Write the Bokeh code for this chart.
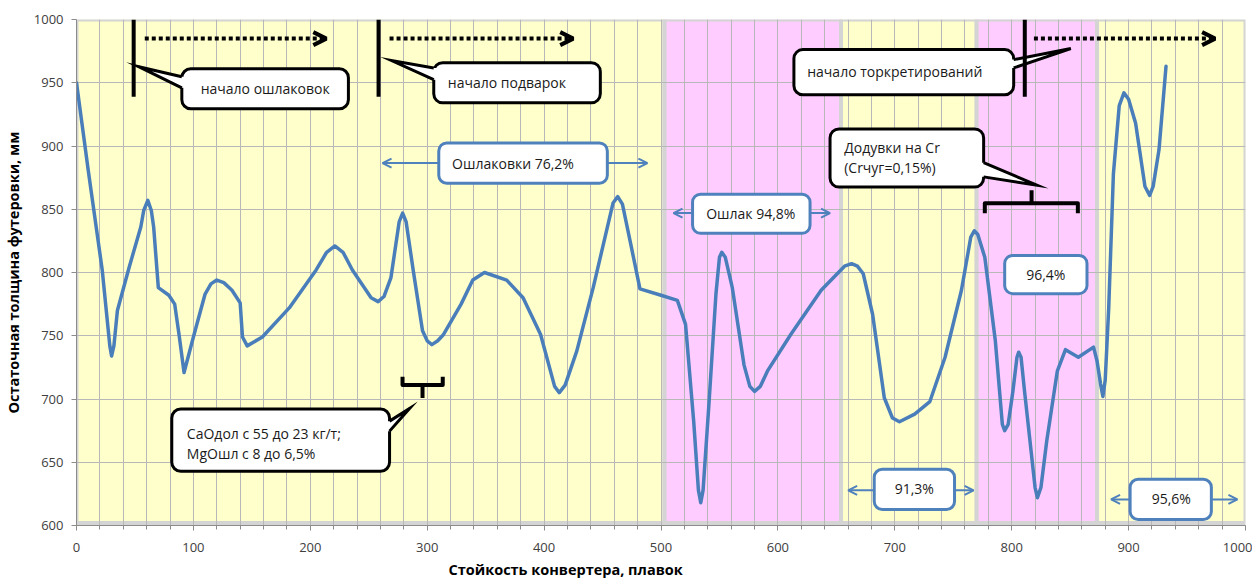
from bokeh.plotting import figure
from bokeh.models import Arrow, OpenHead, SingleIntervalTicker, Range1d, Title
from bokeh.core.properties import value
from bokeh.embed import file_html
from bokeh.resources import INLINE

# ---------------- data ----------------
heats = [0, 10, 22, 28.5, 30, 32, 35, 45, 55, 57.5, 61, 64, 66, 70, 79, 84, 88, 92, 100, 110,
         115, 120, 126, 133, 140, 142, 146, 159, 182, 205, 214, 221, 228, 236, 252, 258, 263,
         269, 276, 279, 282, 288, 296, 300, 304, 309, 314, 329, 339, 349, 368, 382, 397, 409,
         413, 418, 428, 442, 459, 463, 467, 474, 482, 500, 514, 521, 528, 532, 534, 536, 541,
         547, 550, 552, 555, 561, 571, 576, 580, 585, 591, 611, 637, 657, 663, 668, 673, 681,
         691, 698, 704, 717, 730, 743, 757, 765, 768, 771, 777, 786, 792, 794, 797, 801, 804.5,
         806, 808, 811, 820, 822, 825, 830, 839, 846, 857, 870, 873, 876, 878, 880, 883, 887,
         892, 896, 900, 906, 914, 918, 921, 926, 932]
thickness = [950, 881, 802, 742, 734, 742, 770, 804, 836, 849, 857, 849, 836, 788, 782, 775, 749,
             721, 749, 783, 791, 794, 792, 786, 776, 749, 742, 749, 772, 802, 816, 821, 816, 802,
             780, 777, 781, 796, 840, 847, 840, 802, 754, 746, 743, 746, 751, 775, 794, 800, 794,
             780, 751, 710, 705, 711, 738, 788, 855, 860, 854, 823, 787, 782, 778, 759, 682, 628,
             618, 628, 696, 783, 812, 816, 812, 788, 727, 710, 706, 710, 722, 751, 786, 805, 807,
             805, 799, 767, 701, 685, 682, 688, 698, 733, 786, 828, 833, 830, 812, 746, 680, 675,
             680, 706, 733, 737, 733, 706, 630, 622, 630, 667, 722, 739, 733, 741, 730, 712, 702,
             715, 772, 878, 932, 942, 937, 918, 868, 861, 868, 897, 963]

band_left = [0, 503, 654, 770, 873]
band_right = [503, 654, 770, 873, 1000]
band_colors = ["#FFFFCC", "#FFCCFF", "#FFFFCC", "#FFCCFF", "#FFFFCC"]

x_title = "Стойкость конвертера, плавок"
y_title = "Остаточная толщина футеровки, мм"

# black callouts
callout_texts = [["начало ошлаковок"], ["начало подварок"], ["начало торкретирований"],
                 ["Додувки на Cr", "(Crчуг=0,15%)"], ["CaOдол с 55 до 23 кг/т;", "MgOшл с 8 до 6,5%"]]
callout_left = [90.1, 305.6, 613.7, 644.6, 81.5]
callout_right = [232.6, 448.1, 801.7, 776.0, 267.8]
callout_bottom = [929.4, 934.1, 940.5, 867.5, 642.9]
callout_top = [961.1, 965.9, 976.2, 913.5, 692.1]
callout_text_x = [161.4, 368.2, 700.0, 656.7, 94.4]
callout_text_y = [945.2, 950.0, 958.7, 899.2, 673.0]
callout_align = ["center", "center", "center", "left", "left"]
tail_tip_x = [53.2, 269.5, 850.6, 821.5, 285.0]
tail_tip_y = [962.7, 967.5, 977.0, 869.0, 692.6]
tail_side = [-1, -1, 1, 1, 1]
tail_y1 = [954.8, 961.7, 968.3, 886.8, 682.5]
tail_y2 = [946.0, 952.4, 961.7, 875.6, 674.6]

# blue percentage boxes
pct_labels = ["Ошлаковки 76,2%", "Ошлак 94,8%", "96,4%", "91,3%", "95,6%"]
pct_left = [309.9, 527.0, 794.0, 682.4, 901.3]
pct_right = [454.1, 627.5, 864.4, 751.1, 970.8]
pct_bottom = [870.6, 831.0, 783.3, 612.7, 604.8]
pct_top = [902.4, 861.9, 813.5, 644.4, 636.5]
pct_text_x = [373.4, 576.8, 829.2, 716.7, 936.5]
pct_text_y = [886.5, 846.8, 798.4, 629.4, 621.4]
span_y = [886.5, 847.0, 627.8, 620.6]
span_left_tip = [261.8, 510.7, 660.1, 885.0]
span_left_box = [309.9, 527.0, 682.4, 901.3]
span_right_box = [454.1, 627.5, 751.1, 970.8]
span_right_tip = [488.4, 644.6, 767.4, 993.1]

# event markers
marker_x = [48.9, 258.4, 811.2]
marker_bottom = 938.9
dotted_start = [58.4, 267.8, 819.0]
dotted_end = [213.7, 424.9, 974.0]
dotted_y = 984.9

# braces
brace_bottom = dict(x0=278.9, x1=313.3, xc=296.0, yend=717.5, ybar=711.0, ystem=700.8)
brace_top = dict(x0=777.0, x1=856.6, xc=817.0, yend=846.8, ybar=854.8, ystem=865.0)

FONT = "Open Sans"
BLUE = "#4A7EBB"
BOXBLUE = "#4F81BD"

p = figure(width=1252, height=581, x_range=Range1d(0, 1000), y_range=Range1d(600, 1000),
           output_backend="svg", toolbar_location=None,
           min_border_left=70, min_border_right=7, min_border_top=19, min_border_bottom=55,
           y_axis_label=y_title)
p.outline_line_color = None
p.background_fill_color = "white"

p.xaxis.ticker = SingleIntervalTicker(interval=100, num_minor_ticks=5)
p.yaxis.ticker = SingleIntervalTicker(interval=50, num_minor_ticks=0)
for ax in (p.xaxis[0], p.yaxis[0]):
    ax.axis_line_color = "#8C8C8C"
    ax.major_tick_line_color = "#8C8C8C"
    ax.minor_tick_line_color = "#8C8C8C"
    ax.major_tick_in = 0
    ax.major_tick_out = 5
    ax.minor_tick_in = 0
    ax.minor_tick_out = 4
    ax.major_label_text_font = FONT
    ax.major_label_text_font_size = "13px"
    ax.major_label_text_color = "#404040"
    ax.axis_label_text_font = FONT
    ax.axis_label_text_font_size = "14.5px"
    ax.axis_label_text_font_style = "bold"
    ax.axis_label_text_color = "#000000"
p.yaxis.minor_tick_line_color = None
p.yaxis.major_label_standoff = 8
p.yaxis.axis_label_standoff = 8
p.xaxis.major_label_standoff = 12

p.add_layout(Title(text=x_title, align="left", offset=372, standoff=6,
                   text_font=FONT, text_font_size="14.5px", text_font_style="bold",
                   text_color="#000000"), "below")

p.xgrid.grid_line_color = "#B8B8B8"
p.xgrid.minor_grid_line_color = "#B8B8B8"
p.ygrid.grid_line_color = "#B8B8B8"
p.xgrid.grid_line_width = 1
p.ygrid.grid_line_width = 1

bands = p.quad(left=band_left, right=band_right, bottom=602, top=1000,
               fill_color=band_colors, line_color="#D4D4D4", line_width=4)
bands.level = "image"

p.line(heats, thickness, line_color=BLUE, line_width=3.5, line_join="round", line_cap="round")

# blue boxes and span arrows
for yy, lt, lb, rb, rt in zip(span_y, span_left_tip, span_left_box, span_right_box, span_right_tip):
    p.add_layout(Arrow(end=OpenHead(size=9, line_width=2, line_color=BOXBLUE),
                       x_start=lb, y_start=yy, x_end=lt, y_end=yy,
                       line_color=BOXBLUE, line_width=2))
    p.add_layout(Arrow(end=OpenHead(size=9, line_width=2, line_color=BOXBLUE),
                       x_start=rb, y_start=yy, x_end=rt, y_end=yy,
                       line_color=BOXBLUE, line_width=2))
p.quad(left=pct_left, right=pct_right, bottom=pct_bottom, top=pct_top,
       fill_color="white", line_color=BOXBLUE, line_width=3, border_radius=8)
p.text(x=pct_text_x, y=pct_text_y, text=pct_labels, text_font=value(FONT),
       text_font_size="14px", text_align="center", text_baseline="middle", text_color="#1a1a1a")

# black callouts
p.quad(left=callout_left, right=callout_right, bottom=callout_bottom, top=callout_top,
       fill_color="white", line_color="black", line_width=3, border_radius=9)
tail_xs, tail_ys, edge_xs, edge_ys = [], [], [], []
for i in range(len(callout_left)):
    bx = callout_right[i] if tail_side[i] > 0 else callout_left[i]
    d = -3.0 * tail_side[i]
    tail_xs.append([bx + d, bx, tail_tip_x[i], bx, bx + d])
    tail_ys.append([tail_y1[i], tail_y1[i], tail_tip_y[i], tail_y2[i], tail_y2[i]])
    edge_xs.append([bx, tail_tip_x[i], bx])
    edge_ys.append([tail_y1[i], tail_tip_y[i], tail_y2[i]])
p.patches(tail_xs, tail_ys, fill_color="white", line_color=None)
p.multi_line(edge_xs, edge_ys, line_color="black", line_width=3, line_join="miter")

tx, ty, tt, ta = [], [], [], []
for i, lines in enumerate(callout_texts):
    for k, s in enumerate(lines):
        tx.append(callout_text_x[i])
        ty.append(callout_text_y[i] - k * 15.9)
        tt.append(s)
        ta.append(callout_align[i])
p.text(x=tx, y=ty, text=tt, text_align=ta, text_font=value(FONT), text_font_size="14px",
       text_baseline="middle", text_color="#1a1a1a")

# braces
for b in (brace_bottom, brace_top):
    p.multi_line([[b["x0"], b["x0"], b["x1"], b["x1"]], [b["xc"], b["xc"]]],
                 [[b["yend"], b["ybar"], b["ybar"], b["yend"]], [b["ybar"], b["ystem"]]],
                 line_color="black", line_width=4, line_join="round")

# event markers
p.segment(x0=marker_x, y0=[marker_bottom] * 3, x1=marker_x, y1=[1000] * 3,
          line_color="black", line_width=4)
for xs, xe in zip(dotted_start, dotted_end):
    p.add_layout(Arrow(end=OpenHead(size=13, line_width=4, line_color="black"),
                       x_start=xs, y_start=dotted_y, x_end=xe, y_end=dotted_y,
                       line_color="black", line_width=4, line_dash="4 3"))

open("out.html", "w").write(file_html(p, INLINE))
